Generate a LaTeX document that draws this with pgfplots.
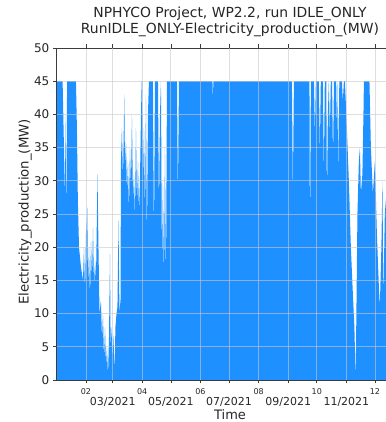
\documentclass[border=0pt]{standalone}
\usepackage{pgfplots}
\pgfplotsset{compat=1.18}
\usepackage{fontspec}
\setmainfont{DejaVu Sans}
\definecolor{fillblue}{RGB}{30,144,255}
\definecolor{gridc}{RGB}{200,200,200}
\definecolor{tickc}{RGB}{60,60,60}
\newcommand{\mn}[1]{{\fontsize{8}{8}\selectfont #1}}
\newcommand{\mj}[1]{{\fontsize{11}{11}\selectfont #1}}
\begin{document}
\begin{tikzpicture}
\begin{axis}[
  at={(56.4pt,42pt)}, anchor=south west,
  scale only axis, width=347.2pt, height=332pt,
  xmin=0, xmax=364, ymin=0, ymax=50,
  axis on top,
  axis line style={tickc, line width=0.8pt},
  xtick={31,90,151,212,273,334},
  xticklabels={\mn{02},\mn{04},\mn{06},\mn{08},\mn{10},\mn{12}},
  extra x ticks={59,120,181,243,304},
  extra x tick labels={\mj{03/2021},\mj{05/2021},\mj{07/2021},\mj{09/2021},\mj{11/2021}},
  extra x tick style={grid=major, tick label style={yshift=-10pt}},
  x tick label style={anchor=center, yshift=-8pt, text=black!85},
  ytick={0,5,...,50},
  y tick label style={font=\fontsize{12}{12}\selectfont, text=black!85},
  tick align=outside, major tick length=3.5pt,
  tick style={tickc, line width=0.7pt},
  xmajorgrids, ymajorgrids,
  grid style={gridc, line width=0.8pt, opacity=0.6},
  /pgf/number format/assume math mode=true,
  title={NPHYCO Project, WP2.2, run IDLE\_ONLY\\RunIDLE\_ONLY-Electricity\_production\_(MW)},
  title style={align=center, font=\fontsize{13.9}{16}\selectfont, at={(axis description cs:0.5,1.060)}, anchor=center, text=black!85},
  xlabel={Time},
  xlabel style={at={(axis description cs:0.5,-0.1054)}, anchor=center, font=\fontsize{13}{13}\selectfont, text=black!85},
  ylabel={Electricity\_production\_(MW)},
  ylabel style={at={(axis description cs:-0.09,0.506)}, anchor=center, font=\fontsize{13.3}{14}\selectfont, text=black!85},
]
\addplot[fill=fillblue, draw=none] coordinates {
(0,45) (6.5,45) (9.0,27.5) (9.6,40) (10.4,23) (11.2,45) (20.5,45) (21.5,38) (22.5,27)
(23.7,20) (25.8,17) (27.9,15) (28.9,20) (30.0,13) (31.0,22) (32.4,26) (33.1,14) (34.2,20)
(35.2,12) (36.3,21) (37.3,15) (38.4,23) (39.4,14) (40.5,18) (41.5,15) (43.1,31) (44.1,20)
(45.2,10) (46.7,12) (47.8,6) (48.8,10) (49.9,3) (51.0,8) (52.0,2) (53.0,5) (54.1,0.5)
(55.1,6) (56.2,19) (56.9,4) (57.7,8) (58.8,3) (59.8,7) (60.9,1) (61.9,8) (63.0,10)
(64.0,11) (65.1,24) (66.1,10) (67.2,12) (67.7,33) (68.7,38) (69.8,30) (71.2,43) (71.9,32)
(72.9,36) (74.0,28) (75.0,33) (76.1,25) (77.1,35) (78.2,29) (79.2,40) (80.3,27) (81.3,31)
(82.4,24) (83.4,38) (84.5,26) (85.5,33) (86.6,25) (87.6,30) (88.7,40) (89.4,45) (90.0,45)
(90.8,30) (91.8,38) (92.9,24) (93.9,43) (94.9,20) (96.0,40) (97.0,45) (101.2,45) (102.3,20)
(103.3,45) (106.5,45) (107.5,25) (108.6,40) (109.6,45) (110.7,16) (111.7,30) (112.8,14)
(113.8,35) (114.9,13) (115.9,45) (126.4,45) (127.4,27) (128.5,45) (163.6,45) (164.1,42)
(164.6,45) (246.9,45) (247.9,28) (249,45) (265.3,45) (265.8,19) (266.8,45) (270,45)
(271,37) (272,45) (275.2,45) (276.2,34) (277.2,45) (279.4,45) (280.4,31) (281.4,45)
(283,45) (283.6,26) (284.6,40) (285.6,45) (286.7,37) (287.7,45) (289,45) (290,33) (291,45)
(293.3,45) (294.3,36) (295,45) (295.6,30) (296.6,45) (299.3,45) (300.3,42) (301.4,45)
(302.5,45) (304.5,38) (306.6,30) (308.7,20) (310.8,13) (312.4,8) (313.7,0) (314.5,10)
(315.6,25) (317.1,33) (318.2,35) (319.2,28) (320.8,31) (321.9,40) (322.4,45) (328.2,45)
(329.7,35) (331.8,28) (333.9,33) (336.0,22) (338.1,14) (339.1,11) (340.7,20) (341.8,30)
(342.8,12) (344.3,25) (349.6,35) (354,45) (364,45)
} \closedcycle;
\end{axis}
\pgfresetboundingbox
\useasboundingbox (0,0) rectangle (385pt,422pt);
\end{tikzpicture}
\end{document}
